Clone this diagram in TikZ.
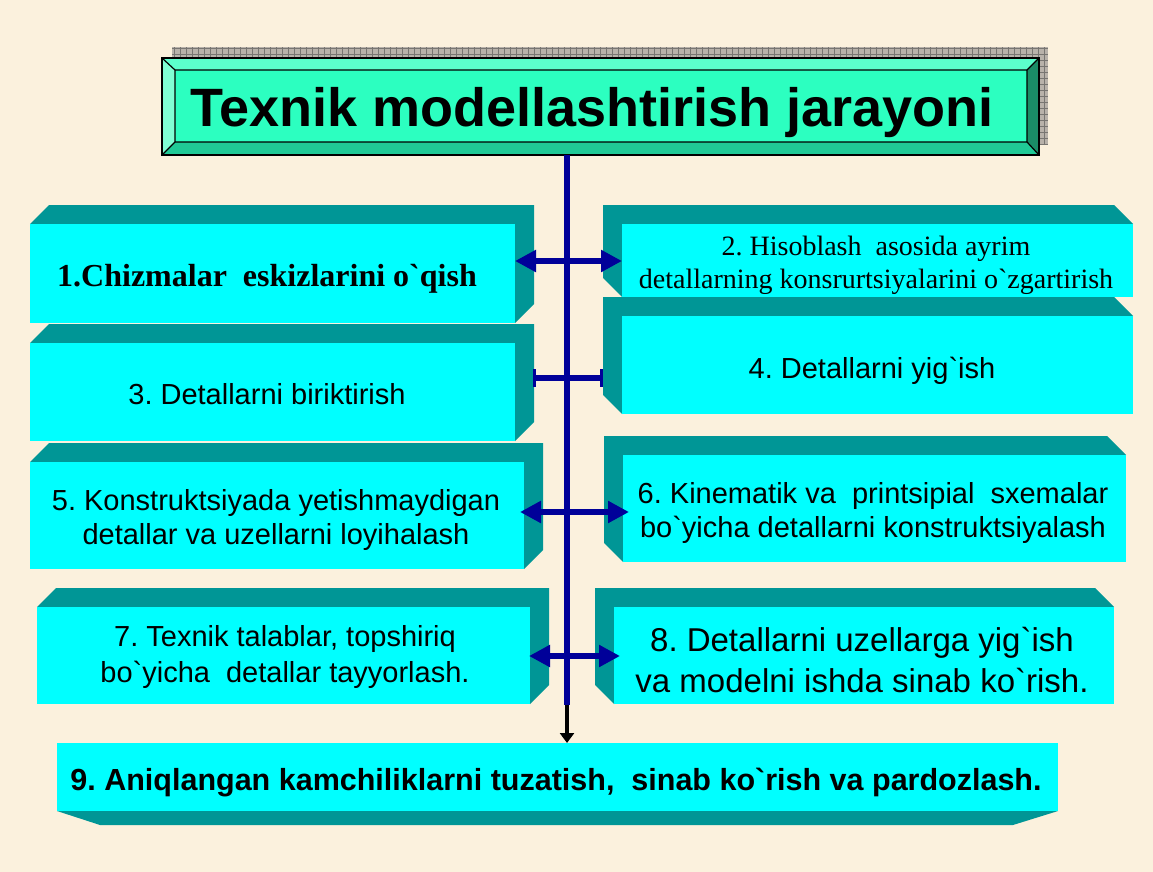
\documentclass[tikz,border=0pt]{standalone}
\usepackage{fontspec}
\newfontfamily\arialf{Liberation Sans}
\newfontfamily\tnrf{Liberation Serif}
\usetikzlibrary{arrows.meta,calc,fit}
\definecolor{bgc}{RGB}{251,241,221}
\definecolor{cyanF}{RGB}{0,255,255}
\definecolor{tealF}{RGB}{0,150,150}
\definecolor{navyC}{RGB}{0,0,153}
\definecolor{titleF}{RGB}{44,255,192}
\definecolor{bevT}{RGB}{92,255,204}
\definecolor{bevL}{RGB}{128,255,212}
\definecolor{bevB}{RGB}{32,201,150}
\definecolor{bevR}{RGB}{26,140,102}
\definecolor{shadowC}{RGB}{184,178,170}
\definecolor{gridC}{RGB}{120,118,114}
\newcommand\depthd{19}
\newcommand\boxR[5]{%
  \fill[side] (#2,#3) -- (#2+\depthd,#3-\depthd) -- (#4+\depthd,#3-\depthd) -- (#4+\depthd,#5-\depthd) -- (#4,#5) -- (#4,#3) -- cycle;
  \path (#2,#3) coordinate (#1nw) (#4,#5) coordinate (#1se);
  \node[face, fit=(#1nw)(#1se)] (#1) {};}
\newcommand\boxL[5]{%
  \fill[side] (#4,#3) -- (#4-\depthd,#3-\depthd) -- (#2-\depthd,#3-\depthd) -- (#2-\depthd,#5-\depthd) -- (#2,#5) -- (#2,#3) -- cycle;
  \path (#2,#3) coordinate (#1nw) (#4,#5) coordinate (#1se);
  \node[face, fit=(#1nw)(#1se)] (#1) {};}
\frenchspacing
\begin{document}
\frenchspacing
\begin{tikzpicture}[x=1pt,y=-1pt,
  face/.style={fill=cyanF, draw=none, inner sep=0pt, outer sep=0pt},
  side/.style={fill=tealF},
  sans/.style={font=\arialf\fontsize{29}{34}\selectfont, align=center, inner sep=0pt},
  dbl/.style={draw=navyC, line width=6pt, {Triangle[length=21pt,width=21pt]}-{Triangle[length=21pt,width=21pt]}},
  bars/.style={draw=navyC, line width=6pt, {Bar[width=18pt,line width=3pt]}-{Bar[width=18pt,line width=3pt]}},
  spine/.style={draw=navyC, line width=6pt},
  downarr/.style={draw=black, line width=4pt, -{Triangle[length=10pt,width=14pt]}}]
\fill[bgc] (0,0) rectangle (1153,872);
\useasboundingbox (0,0) rectangle (1153,872);
% title shadow
\fill[shadowC] (172,47) rectangle (1048,145);
\begin{scope}
  \clip (172,47) rectangle (1048,145);
  \draw[gridC, line width=0.6pt, step=6pt] (172,47) grid (1048,145);
\end{scope}
% title bevel box
\fill[bevT] (162,58) -- (1039,58) -- (1027,70) -- (175,70) -- cycle;
\fill[bevL] (162,58) -- (175,70) -- (175,142) -- (162,155) -- cycle;
\fill[bevB] (162,155) -- (175,142) -- (1027,142) -- (1039,155) -- cycle;
\fill[bevR] (1039,58) -- (1039,155) -- (1027,142) -- (1027,70) -- cycle;
\fill[titleF] (175,70) rectangle (1027,142);
\draw[line width=1.2pt] (175,70) rectangle (1027,142)
  (162,58) -- (175,70) (1039,58) -- (1027,70) (162,155) -- (175,142) (1039,155) -- (1027,142);
\path (162,58) coordinate (tnw) (1039,155) coordinate (tse);
\node[fit=(tnw)(tse), inner sep=0pt, outer sep=0pt, draw=black, line width=1.2pt] (title) {};
\node[anchor=base, inner sep=0pt, font=\arialf\bfseries\fontsize{54}{60}\selectfont] (tt) at (592,127) {Texnik modellashtirish jarayoni};
% boxes
\boxR{b1}{30}{224}{515}{323}
\boxL{b2}{622}{224}{1133}{297}
\boxL{b4}{622}{316}{1133}{414}
\boxR{b3}{30}{343}{515}{441}
\boxR{b5}{30}{462}{524}{569}
\boxL{b6}{623}{455}{1126}{562}
\boxR{b7}{37}{607}{530}{704}
\boxL{b8}{614}{607}{1114}{704}
\fill[side] (57,811) -- (1058,811) -- (1013,825) -- (100,825) -- cycle;
\path (57,743) coordinate (b9nw) (1058,811) coordinate (b9se);
\node[face, fit=(b9nw)(b9se)] (b9) {};
% texts
\node[anchor=base, inner sep=0pt, font=\tnrf\bfseries\fontsize{32}{38}\selectfont] (t1) at (267,286) {1.Chizmalar\ \ eskizlarini o`qish};
\node[align=center, inner sep=0pt, font=\tnrf\fontsize{28}{33}\selectfont] (t2) at (876,265) {2. Hisoblash\ \ asosida ayrim\\detallarning konsrurtsiyalarini o`zgartirish};
\node[sans, anchor=base] (t3) at (267,404) {3. Detallarni biriktirish};
\node[sans, anchor=base] (t4) at (872,378) {4. Detallarni yig`ish};
\node[sans] (t5) at (276,519.5) {5. Konstruktsiyada yetishmaydigan\\detallar va uzellarni loyihalash};
\node[sans] (t6) at (873,512.5) {6. Kinematik va\ \ printsipial\ \ sxemalar\\bo`yicha detallarni konstruktsiyalash};
\node[sans, font=\arialf\fontsize{29}{36}\selectfont] (t7) at (285,657) {7. Texnik talablar, topshiriq\\bo`yicha\ \ detallar tayyorlash.};
\node[sans, font=\arialf\fontsize{33}{41}\selectfont] (t8) at (862,660) {8. Detallarni uzellarga yig`ish\\va modelni ishda sinab ko`rish.};
\node[anchor=base, inner sep=0pt, font=\arialf\bfseries\fontsize{30.5}{36}\selectfont] (t9) at (556,790) {9. Aniqlangan kamchiliklarni tuzatish,\ \ sinab ko`rish va pardozlash.};
% connectors
\coordinate (s0) at (567,155);
\coordinate (s1) at (567,705);
\coordinate (r1) at (567,261);
\coordinate (r2) at (567,378);
\coordinate (r3) at (567,512);
\coordinate (r4) at (567,656);
\draw[spine] (s0) -- (s1);
\draw[downarr] (s1) -- (s1 |- b9.north);
\draw[dbl] (r1 -| b1.east) -- (r1 -| b2.west);
\draw[bars] ($(r2 -| b3.east)+(18,0)$) -- ($(r2 -| b4.west)+(-19,0)$);
\draw[dbl] ($(r3 -| b5.east)+(-4,0)$) -- ($(r3 -| b6.west)+(6,0)$);
\draw[dbl] ($(r4 -| b7.east)+(-1,0)$) -- ($(r4 -| b8.west)+(6,0)$);
\end{tikzpicture}
\end{document}
